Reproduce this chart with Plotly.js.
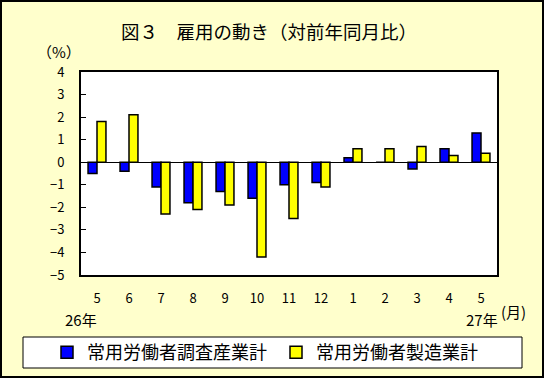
<!DOCTYPE html>
<html>
<head>
<meta charset="utf-8">
<script src="https://cdn.plot.ly/plotly-3.0.1.min.js"></script>
<style>
  html, body { margin: 0; padding: 0; background: #FFFFCC; }
  #wrap { position: relative; width: 544px; height: 378px; }
  #chart { position: absolute; left: 0; top: 0; width: 544px; height: 378px; }
  #frame { position: absolute; left: 0; top: 0; width: 544px; height: 378px; box-sizing: border-box; border: 2px solid #000; pointer-events: none; }
</style>
</head>
<body>
<div id="wrap"><div id="chart"></div><div id="frame"></div></div>
<script>
// Data
const monthLabels = ["5", "6", "7", "8", "9", "10", "11", "12", "1", "2", "3", "4", "5"];
const seriesNames = ["常用労働者調査産業計", "常用労働者製造業計"];
const allIndustries = [-0.5, -0.4, -1.1, -1.8, -1.3, -1.6, -1.0, -0.9, 0.2, 0.0, -0.3, 0.6, 1.3];
const manufacturing = [1.8, 2.1, -2.3, -2.1, -1.9, -4.2, -2.5, -1.1, 0.6, 0.6, 0.7, 0.3, 0.4];
const yTicks = [4, 3, 2, 1, 0, -1, -2, -3, -4, -5];

const xIdx = monthLabels.map((_, i) => i);
const FONT = '"Noto Sans CJK JP", "DejaVu Sans", sans-serif';

// Plot area geometry (px) for placing annotation text
const PL = 81, PR = 497, PT = 72, PB = 275;
const px2x = p => (p - PL) / (PR - PL);
const py2y = p => (PB - p) / (PB - PT);

const traces = [
  {
    type: 'bar', name: seriesNames[0], x: xIdx, y: allIndustries,
    marker: { color: '#0000FF', line: { color: '#000000', width: 1.5 } }
  },
  {
    type: 'bar', name: seriesNames[1], x: xIdx, y: manufacturing,
    marker: { color: '#FFFF00', line: { color: '#000000', width: 1.5 } }
  }
];

const layout = {
  width: 544, height: 378,
  margin: { l: PL, r: 544 - PR, t: PT, b: 378 - PB, pad: 0, autoexpand: false },
  paper_bgcolor: '#FFFFCC',
  plot_bgcolor: '#FFFFFF',
  font: { family: FONT, size: 13, color: '#000' },
  barmode: 'group',
  bargap: 0.44,
  bargroupgap: 0,
  showlegend: true,
  title: {
    text: '図３　雇用の動き（対前年同月比）',
    font: { family: FONT, size: 18.5, color: '#000' },
    xref: 'container', yref: 'container',
    x: 269 / 544, xanchor: 'center',
    y: 1 - 33 / 378, yanchor: 'middle'
  },
  xaxis: {
    range: [-0.5, monthLabels.length - 0.5],
    tickmode: 'array', tickvals: xIdx, ticktext: monthLabels,
    ticks: '', showgrid: false, zeroline: false,
    showline: true, linecolor: '#000', linewidth: 2, mirror: true,
    tickfont: { family: FONT, size: 13 },
    ticklabelstandoff: 10,
    fixedrange: true
  },
  yaxis: {
    range: [-5, 4],
    tickmode: 'array', tickvals: yTicks, ticktext: yTicks.map(v => v < 0 ? '−' + Math.abs(v) : String(v)),
    ticks: 'inside', ticklen: 5, tickwidth: 1, tickcolor: '#000',
    showgrid: false,
    zeroline: true, zerolinecolor: '#000', zerolinewidth: 1,
    showline: true, linecolor: '#000', linewidth: 2, mirror: true,
    tickfont: { family: FONT, size: 13 },
    ticklabelstandoff: 12,
    fixedrange: true
  },
  legend: {
    orientation: 'h',
    x: px2x(47), xanchor: 'left',
    y: py2y(352.5), yanchor: 'middle',
    bgcolor: 'rgba(0,0,0,0)', borderwidth: 0,
    font: { family: FONT, size: 18, color: '#000' },
    entrywidth: 184, entrywidthmode: 'pixels',
    traceorder: 'normal'
  },
  shapes: [
    {
      type: 'rect', xref: 'paper', yref: 'paper', layer: 'below',
      x0: px2x(23), x1: px2x(522), y0: py2y(337), y1: py2y(368),
      line: { color: '#000', width: 1 }, fillcolor: '#FFFFFF'
    }
  ],
  annotations: [
    { text: '（%）', xref: 'paper', yref: 'paper', x: px2x(59), y: py2y(51), xanchor: 'center', yanchor: 'middle', showarrow: false, font: { family: FONT, size: 15 } },
    { text: '26年', xref: 'paper', yref: 'paper', x: px2x(81), y: py2y(319), xanchor: 'center', yanchor: 'middle', showarrow: false, font: { family: FONT, size: 15 } },
    { text: '27年', xref: 'paper', yref: 'paper', x: px2x(482), y: py2y(319), xanchor: 'center', yanchor: 'middle', showarrow: false, font: { family: FONT, size: 15 } },
    { text: '(月)', xref: 'paper', yref: 'paper', x: px2x(513), y: py2y(311), xanchor: 'center', yanchor: 'middle', showarrow: false, font: { family: FONT, size: 15 } }
  ]
};

Plotly.newPlot('chart', traces, layout, { staticPlot: true, displayModeBar: false });
</script>
</body>
</html>
